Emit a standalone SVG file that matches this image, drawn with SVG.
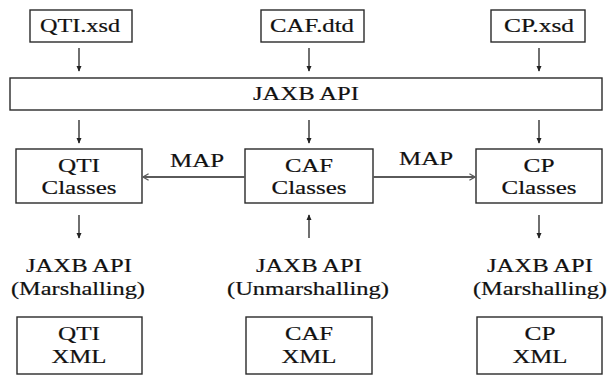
<svg xmlns="http://www.w3.org/2000/svg" width="608" height="376" viewBox="0 0 608 376">
  <style>
    .box { fill: #ffffff; stroke: #2a2a2a; stroke-width: 1.4; }
    .t { font-family: "Liberation Serif", "Times New Roman", serif; font-size: 19px; fill: #111111; stroke: #111111; stroke-width: 0.2; text-anchor: middle; }
    .down { stroke: #222222; stroke-width: 1.3; fill: none; marker-end: url(#tip); }
    .map { stroke: #5a5a5a; stroke-width: 1.8; fill: none; marker-end: url(#open); }
  </style>
  <defs>
    <marker id="tip" viewBox="0 0 8 8" refX="7" refY="4" markerWidth="6" markerHeight="6" markerUnits="userSpaceOnUse" orient="auto">
      <path d="M0,0.5 L8,4 L0,7.5 Z" fill="#222222"/>
    </marker>
    <marker id="open" viewBox="0 0 10 10" refX="9" refY="5" markerWidth="8" markerHeight="8" markerUnits="userSpaceOnUse" orient="auto">
      <path d="M2,1 L9,5 L2,9" fill="none" stroke="#5a5a5a" stroke-width="1.6"/>
    </marker>
  </defs>

  <rect width="608" height="376" fill="#ffffff"/>

  <!-- source schemas -->
  <g id="qti-xsd">
    <rect class="box" x="30" y="10" width="102" height="32"/>
    <text class="t" x="80" y="32" textLength="80" lengthAdjust="spacingAndGlyphs">QTI.xsd</text>
  </g>
  <g id="caf-dtd">
    <rect class="box" x="261" y="10" width="103" height="32"/>
    <text class="t" x="312" y="32" textLength="84" lengthAdjust="spacingAndGlyphs">CAF.dtd</text>
  </g>
  <g id="cp-xsd">
    <rect class="box" x="491" y="10" width="94" height="32"/>
    <text class="t" x="539" y="32" textLength="70" lengthAdjust="spacingAndGlyphs">CP.xsd</text>
  </g>

  <!-- binding layer -->
  <g id="jaxb">
    <rect class="box" x="10" y="78" width="592" height="32"/>
    <text class="t" x="306" y="100" textLength="106" lengthAdjust="spacingAndGlyphs">JAXB API</text>
  </g>

  <!-- generated classes -->
  <g id="qti-classes">
    <rect class="box" x="16" y="149" width="126" height="54"/>
    <text class="t" x="79" y="172" textLength="42" lengthAdjust="spacingAndGlyphs">QTI</text>
    <text class="t" x="79" y="194" textLength="75" lengthAdjust="spacingAndGlyphs">Classes</text>
  </g>
  <g id="caf-classes">
    <rect class="box" x="245" y="149" width="128" height="54"/>
    <text class="t" x="309" y="172" textLength="48" lengthAdjust="spacingAndGlyphs">CAF</text>
    <text class="t" x="309" y="194" textLength="75" lengthAdjust="spacingAndGlyphs">Classes</text>
  </g>
  <g id="cp-classes">
    <rect class="box" x="476" y="149" width="126" height="54"/>
    <text class="t" x="539" y="172" textLength="31" lengthAdjust="spacingAndGlyphs">CP</text>
    <text class="t" x="539" y="194" textLength="75" lengthAdjust="spacingAndGlyphs">Classes</text>
  </g>

  <!-- (un)marshalling labels -->
  <g id="qti-marshal">
    <text class="t" x="79" y="272" textLength="106" lengthAdjust="spacingAndGlyphs">JAXB API</text>
    <text class="t" x="78" y="295" textLength="134" lengthAdjust="spacingAndGlyphs">(Marshalling)</text>
  </g>
  <g id="caf-unmarshal">
    <text class="t" x="309" y="272" textLength="106" lengthAdjust="spacingAndGlyphs">JAXB API</text>
    <text class="t" x="308" y="295" textLength="162" lengthAdjust="spacingAndGlyphs">(Unmarshalling)</text>
  </g>
  <g id="cp-marshal">
    <text class="t" x="540" y="272" textLength="106" lengthAdjust="spacingAndGlyphs">JAXB API</text>
    <text class="t" x="540" y="295" textLength="134" lengthAdjust="spacingAndGlyphs">(Marshalling)</text>
  </g>

  <!-- XML documents -->
  <g id="qti-xml">
    <rect class="box" x="17" y="317" width="125" height="57"/>
    <text class="t" x="79" y="340" textLength="42" lengthAdjust="spacingAndGlyphs">QTI</text>
    <text class="t" x="79" y="363" textLength="55" lengthAdjust="spacingAndGlyphs">XML</text>
  </g>
  <g id="caf-xml">
    <rect class="box" x="246" y="317" width="126" height="57"/>
    <text class="t" x="309" y="340" textLength="48" lengthAdjust="spacingAndGlyphs">CAF</text>
    <text class="t" x="309" y="363" textLength="55" lengthAdjust="spacingAndGlyphs">XML</text>
  </g>
  <g id="cp-xml">
    <rect class="box" x="477" y="317" width="125" height="57"/>
    <text class="t" x="540" y="340" textLength="31" lengthAdjust="spacingAndGlyphs">CP</text>
    <text class="t" x="540" y="363" textLength="55" lengthAdjust="spacingAndGlyphs">XML</text>
  </g>

  <!-- connectors -->
  <g id="connectors">
    <line class="down" x1="79" y1="48" x2="79" y2="71"/>
    <line class="down" x1="309" y1="48" x2="309" y2="71"/>
    <line class="down" x1="539" y1="48" x2="539" y2="71"/>

    <line class="down" x1="79" y1="120" x2="79" y2="143"/>
    <line class="down" x1="309" y1="120" x2="309" y2="143"/>
    <line class="down" x1="539" y1="120" x2="539" y2="143"/>

    <line class="down" x1="79" y1="215" x2="79" y2="238"/>
    <line class="down" x1="309" y1="238" x2="309" y2="215"/>
    <line class="down" x1="539" y1="215" x2="539" y2="238"/>

    <line class="map" x1="245" y1="177" x2="143" y2="177"/>
    <line class="map" x1="373" y1="177" x2="475" y2="177"/>
    <text class="t" x="197" y="167" textLength="54" lengthAdjust="spacingAndGlyphs">MAP</text>
    <text class="t" x="426" y="165" textLength="54" lengthAdjust="spacingAndGlyphs">MAP</text>
  </g>
</svg>
